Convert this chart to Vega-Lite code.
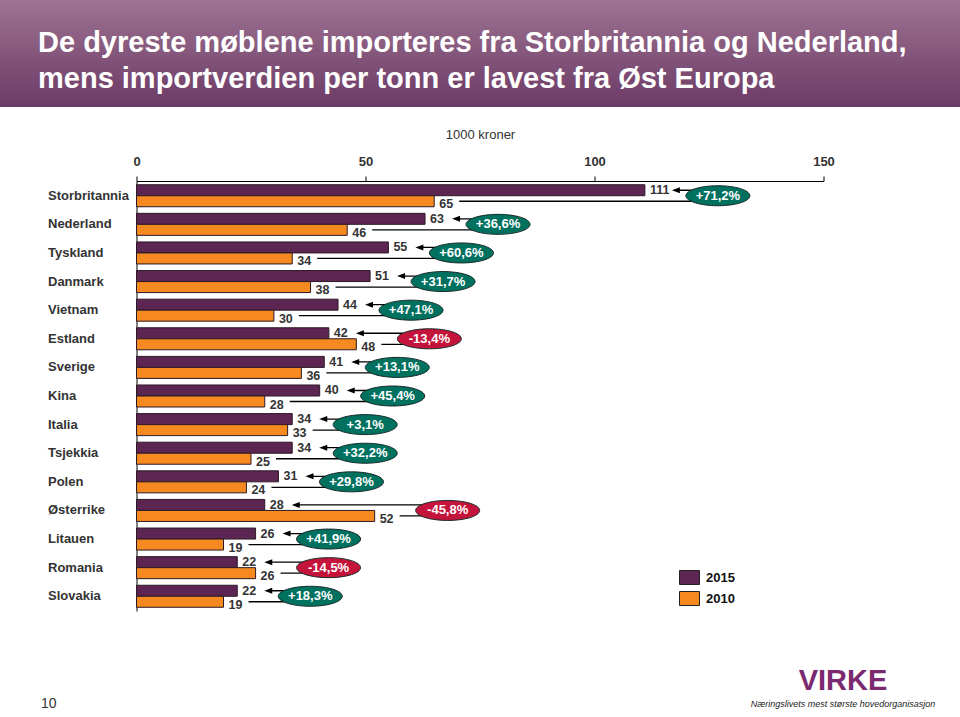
{
  "$schema": "https://vega.github.io/schema/vega-lite/v6.json",
  "background": "white",
  "padding": 0,
  "spacing": 74,
  "center": true,
  "bounds": "flush",
  "config": {"font": "Liberation Sans", "view": {"stroke": null}},
  "datasets": {
    "bars": [
      {"country": "Storbritannia", "year": "2015", "value": 111, "change": "+71,2%"},
      {"country": "Storbritannia", "year": "2010", "value": 65, "change": "+71,2%"},
      {"country": "Nederland", "year": "2015", "value": 63, "change": "+36,6%"},
      {"country": "Nederland", "year": "2010", "value": 46, "change": "+36,6%"},
      {"country": "Tyskland", "year": "2015", "value": 55, "change": "+60,6%"},
      {"country": "Tyskland", "year": "2010", "value": 34, "change": "+60,6%"},
      {"country": "Danmark", "year": "2015", "value": 51, "change": "+31,7%"},
      {"country": "Danmark", "year": "2010", "value": 38, "change": "+31,7%"},
      {"country": "Vietnam", "year": "2015", "value": 44, "change": "+47,1%"},
      {"country": "Vietnam", "year": "2010", "value": 30, "change": "+47,1%"},
      {"country": "Estland", "year": "2015", "value": 42, "change": "-13,4%"},
      {"country": "Estland", "year": "2010", "value": 48, "change": "-13,4%"},
      {"country": "Sverige", "year": "2015", "value": 41, "change": "+13,1%"},
      {"country": "Sverige", "year": "2010", "value": 36, "change": "+13,1%"},
      {"country": "Kina", "year": "2015", "value": 40, "change": "+45,4%"},
      {"country": "Kina", "year": "2010", "value": 28, "change": "+45,4%"},
      {"country": "Italia", "year": "2015", "value": 34, "change": "+3,1%"},
      {"country": "Italia", "year": "2010", "value": 33, "change": "+3,1%"},
      {"country": "Tsjekkia", "year": "2015", "value": 34, "change": "+32,2%"},
      {"country": "Tsjekkia", "year": "2010", "value": 25, "change": "+32,2%"},
      {"country": "Polen", "year": "2015", "value": 31, "change": "+29,8%"},
      {"country": "Polen", "year": "2010", "value": 24, "change": "+29,8%"},
      {"country": "Østerrike", "year": "2015", "value": 28, "change": "-45,8%"},
      {"country": "Østerrike", "year": "2010", "value": 52, "change": "-45,8%"},
      {"country": "Litauen", "year": "2015", "value": 26, "change": "+41,9%"},
      {"country": "Litauen", "year": "2010", "value": 19, "change": "+41,9%"},
      {"country": "Romania", "year": "2015", "value": 22, "change": "-14,5%"},
      {"country": "Romania", "year": "2010", "value": 26, "change": "-14,5%"},
      {"country": "Slovakia", "year": "2015", "value": 22, "change": "+18,3%"},
      {"country": "Slovakia", "year": "2010", "value": 19, "change": "+18,3%"}
    ]
  },
  "vconcat": [
    {
      "width": 960,
      "height": 107,
      "data": {"values": [{}]},
      "title": {
        "text": ["De dyreste møblene importeres fra Storbritannia og Nederland,", "mens importverdien per tonn er lavest fra Øst Europa"],
        "orient": "top",
        "anchor": "start",
        "frame": "group",
        "baseline": "top",
        "offset": -94,
        "dx": 38,
        "fontSize": 29,
        "fontWeight": "bold",
        "color": "white",
        "lineHeight": 36
      },
      "mark": {
        "type": "rect",
        "fill": {"x1": 0, "y1": 0, "x2": 0, "y2": 1, "gradient": "linear", "stops": [{"offset": 0, "color": "#9d7392"}, {"offset": 1, "color": "#6c3a66"}]}
      },
      "encoding": {}
    },
    {
      "width": 687,
      "height": 430,
      "data": {"name": "bars"},
      "title": {
        "text": "VIRKE",
        "subtitle": "Næringslivets mest største hovedorganisasjon",
        "orient": "bottom",
        "anchor": "middle",
        "frame": "group",
        "dx": 363,
        "offset": -43,
        "fontSize": 29,
        "fontWeight": "bold",
        "color": "#7b2a6f",
        "subtitleFontSize": 9,
        "subtitleFontStyle": "italic",
        "subtitleColor": "#222",
        "subtitlePadding": 4
      },
      "layer": [
        {
          "mark": {"type": "bar", "stroke": "#2b1a25", "strokeWidth": 1},
          "encoding": {
            "y": {
              "field": "country", "type": "nominal", "sort": null,
              "scale": {"paddingInner": 0.23, "paddingOuter": 0.13},
              "axis": {
                "title": "10", "titleAngle": 0, "titleX": -96, "titleY": 522,
                "titleAlign": "left", "titleBaseline": "middle", "titleFontSize": 14,
                "titleFontWeight": "normal", "titleColor": "#333",
                "labelAlign": "left", "labelPadding": 89, "ticks": false, "tickSize": 0,
                "domainColor": "black", "labelFontSize": 13, "labelFontWeight": "bold",
                "labelColor": "#333", "labelBaseline": "middle"
              }
            },
            "x": {
              "field": "value", "type": "quantitative",
              "scale": {"domain": [0, 150], "nice": false},
              "axis": {
                "orient": "top", "values": [0, 50, 100, 150], "title": "1000 kroner",
                "titleFontSize": 13, "titleFontWeight": "normal", "titleColor": "#333",
                "titlePadding": 14, "labelFontSize": 13, "labelFontWeight": "bold",
                "labelColor": "#333", "labelPadding": 8, "labelFlush": false,
                "tickSize": 5, "tickColor": "black", "domainColor": "black", "grid": false
              }
            },
            "yOffset": {"field": "year", "type": "nominal", "sort": ["2015", "2010"], "scale": {"paddingInner": 0, "paddingOuter": 0}},
            "color": {
              "field": "year", "type": "nominal",
              "scale": {"domain": ["2015", "2010"], "range": ["#5d2552", "#f6891f"]},
              "legend": {
                "orient": "none", "legendX": 679, "legendY": 567, "title": null,
                "symbolType": "M-1,-0.7H1V0.7H-1Z", "symbolSize": 400,
                "symbolStrokeColor": "#222", "symbolStrokeWidth": 1, "symbolOpacity": 1,
                "labelFontSize": 13, "labelFontWeight": "bold", "labelColor": "#111",
                "rowPadding": 1, "labelOffset": 6, "padding": 0
              }
            }
          }
        },
        {
          "transform": [{"filter": "datum.year == '2015'"}],
          "mark": {"type": "text", "align": "left", "baseline": "middle", "dx": 5, "fontSize": 12.5, "fontWeight": "bold", "color": "#333"},
          "encoding": {
            "y": {"field": "country", "type": "nominal", "sort": null, "bandPosition": 0.25},
            "x": {"field": "value", "type": "quantitative"},
            "text": {"field": "value", "type": "quantitative"}
          }
        },
        {
          "transform": [{"filter": "datum.year == '2010'"}],
          "mark": {"type": "text", "align": "left", "baseline": "middle", "dx": 5, "dy": 3, "fontSize": 12.5, "fontWeight": "bold", "color": "#333"},
          "encoding": {
            "y": {"field": "country", "type": "nominal", "sort": null, "bandPosition": 0.75},
            "x": {"field": "value", "type": "quantitative"},
            "text": {"field": "value", "type": "quantitative"}
          }
        },
        {
          "transform": [
            {"joinaggregate": [{"op": "max", "field": "value", "as": "mx"}], "groupby": ["country"]},
            {"filter": "datum.year == '2010'"}
          ],
          "mark": {"type": "rule", "color": "black", "strokeWidth": 1.3, "xOffset": 25, "x2Offset": 73},
          "encoding": {
            "y": {"field": "country", "type": "nominal", "sort": null, "bandPosition": 0.75},
            "x": {"field": "value", "type": "quantitative"},
            "x2": {"field": "mx"}
          }
        },
        {
          "transform": [
            {"joinaggregate": [{"op": "max", "field": "value", "as": "mx"}], "groupby": ["country"]},
            {"filter": "datum.year == '2015'"}
          ],
          "mark": {"type": "rule", "color": "black", "strokeWidth": 1.3, "xOffset": 31, "x2Offset": 73},
          "encoding": {
            "y": {"field": "country", "type": "nominal", "sort": null, "bandPosition": 0.25},
            "x": {"field": "value", "type": "quantitative"},
            "x2": {"field": "mx"}
          }
        },
        {
          "transform": [{"filter": "datum.year == '2015'"}],
          "mark": {"type": "point", "shape": "M-1,0L1,-0.75L1,0.75Z", "size": 64, "filled": true, "color": "black", "opacity": 1, "xOffset": 31},
          "encoding": {
            "y": {"field": "country", "type": "nominal", "sort": null, "bandPosition": 0.25},
            "x": {"field": "value", "type": "quantitative"}
          }
        },
        {
          "transform": [
            {"joinaggregate": [{"op": "max", "field": "value", "as": "mx"}], "groupby": ["country"]},
            {"filter": "datum.year == '2015'"}
          ],
          "mark": {"type": "point", "shape": "M-1.6,0A1.6,0.5,0,1,0,1.6,0A1.6,0.5,0,1,0,-1.6,0Z", "size": 1600, "filled": true, "opacity": 1, "stroke": "#1a2a28", "strokeWidth": 1, "xOffset": 73},
          "encoding": {
            "y": {"field": "country", "type": "nominal", "sort": null, "bandPosition": 0.5},
            "x": {"field": "mx", "type": "quantitative"},
            "fill": {"condition": {"test": "indexof(datum.change, '-') == 0", "value": "#c4143c"}, "value": "#00705f"}
          }
        },
        {
          "transform": [
            {"joinaggregate": [{"op": "max", "field": "value", "as": "mx"}], "groupby": ["country"]},
            {"filter": "datum.year == '2015'"}
          ],
          "mark": {"type": "text", "align": "center", "baseline": "middle", "xOffset": 73, "fontSize": 13, "fontWeight": "bold", "color": "white"},
          "encoding": {
            "y": {"field": "country", "type": "nominal", "sort": null, "bandPosition": 0.5},
            "x": {"field": "mx", "type": "quantitative"},
            "text": {"field": "change"}
          }
        }
      ]
    }
  ]
}
